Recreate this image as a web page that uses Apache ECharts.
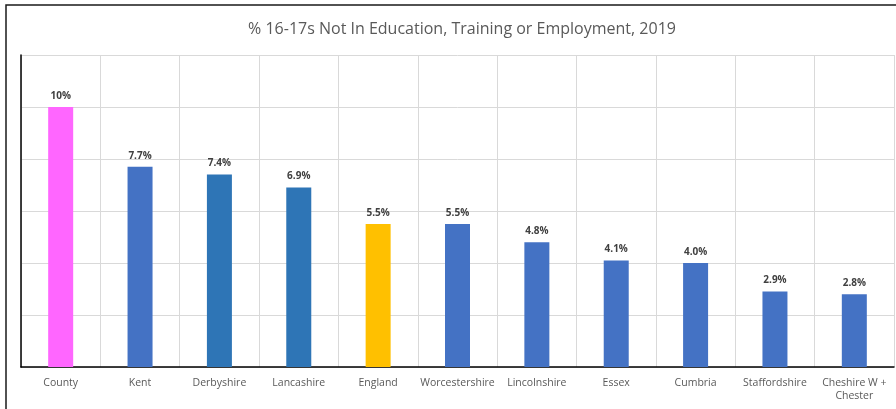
<!DOCTYPE html>
<html>
<head>
<meta charset="utf-8">
<script src="https://cdn.jsdelivr.net/npm/echarts@6/dist/echarts.min.js"></script>
<style>
  html, body { margin: 0; padding: 0; background: #fff; }
  #chart { width: 896px; height: 409px; }
</style>
</head>
<body>
<div id="chart"></div>
<script>
// Share of 16-17 year olds not in education, training or employment (2019)
const categories = ['County', 'Kent', 'Derbyshire', 'Lancashire', 'England', 'Worcestershire',
  'Lincolnshire', 'Essex', 'Cumbria', 'Staffordshire', 'Cheshire W +\nChester'];
const neetPercent = [10, 7.7, 7.4, 6.9, 5.5, 5.5, 4.8, 4.1, 4.0, 2.9, 2.8];
const barColors = ['#FF66FF', '#4472C4', '#2E75B6', '#2E75B6', '#FFC000', '#4472C4',
  '#4472C4', '#4472C4', '#4472C4', '#4472C4', '#4472C4'];
const titleText = '% 16-17s Not In Education, Training or Employment, 2019';

const font = 'Open Sans';
const chart = echarts.init(document.getElementById('chart'), null, { renderer: 'canvas' });

chart.setOption({
  animation: false,
  backgroundColor: '#fff',
  title: {
    text: titleText,
    left: 457, top: 16, textAlign: 'center',
    textStyle: { fontFamily: font, fontSize: 16, fontWeight: 'normal', color: '#595959' }
  },
  graphic: [{
    type: 'rect', silent: true, z: 100,
    shape: { x: 6, y: 5, width: 920, height: 440 },
    style: { fill: 'none', stroke: '#1a1a1a', lineWidth: 1.5 }
  }],
  grid: { left: 21, right: 2, top: 55, bottom: 42, containLabel: false },
  xAxis: {
    type: 'category',
    data: categories,
    boundaryGap: true,
    axisLine: { show: true, lineStyle: { color: '#000', width: 1.5 } },
    axisTick: { show: false },
    axisLabel: { interval: 0, fontFamily: font, fontSize: 10.5, color: '#595959', margin: 10, lineHeight: 13 },
    splitLine: { show: true, lineStyle: { color: '#d9d9d9', width: 1 } }
  },
  yAxis: {
    type: 'value',
    min: 0, max: 12, interval: 2,
    axisLine: { show: true, lineStyle: { color: '#000', width: 1.5 } },
    axisTick: { show: false },
    axisLabel: { show: false },
    splitLine: { show: true, lineStyle: { color: '#d9d9d9', width: 1 } }
  },
  series: [{
    type: 'bar',
    data: neetPercent.map((v, i) => ({ value: v, itemStyle: { color: barColors[i] } })),
    barWidth: 25,
    label: {
      show: true, position: 'top', distance: 6,
      fontFamily: font, fontSize: 10, fontWeight: 'bold', color: '#404040',
      formatter: p => (p.value >= 10 ? p.value.toFixed(0) : p.value.toFixed(1)) + '%'
    }
  }]
});
</script>
</body>
</html>
